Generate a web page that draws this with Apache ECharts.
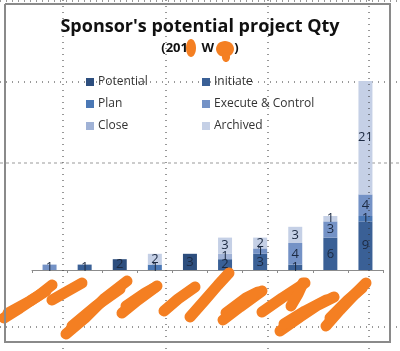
<!DOCTYPE html>
<html>
<head>
<meta charset="utf-8">
<script src="https://cdn.jsdelivr.net/npm/echarts@6/dist/echarts.min.js"></script>
<style>
  html, body { margin: 0; padding: 0; background: #fff; }
  #chart { width: 400px; height: 351px; }
</style>
</head>
<body>
<div id="chart"></div>
<script>
// categories are hidden under the orange scribbles in the picture
const categories = ["S1", "S2", "S3", "S4", "S5", "S6", "S7", "S8", "S9", "S10"];
const potential = [0, 0, 2, 0, 3, 0, 0, 0, 0, 0];
const initiate = [0, 1, 0, 0, 0, 2, 3, 1, 6, 9];
const plan = [0, 0, 0, 1, 0, 0, 0, 0, 0, 1];
const executeControl = [1, 0, 0, 0, 0, 0, 1, 4, 3, 4];
const close = [0, 0, 0, 0, 0, 1, 0, 0, 0, 0];
const archived = [0, 0, 0, 2, 0, 3, 2, 3, 1, 21];

const seriesNames = ["Potential", "Initiate", "Plan", "Execute & Control", "Close", "Archived"];
const seriesData = [potential, initiate, plan, executeControl, close, archived];
const colors = ["#2d4e7e", "#3a6096", "#4b78b5", "#7492c6", "#a0b2d6", "#c5d0e6"];

// orange marker strokes over the axis labels and subtitle
const scribbles = [
  [[4, 318], [20, 308], [38, 296], [52, 285]],
  [[8, 313], [30, 301], [46, 291]],
  [[52, 300], [66, 292], [82, 283]],
  [[66, 334], [85, 318], [105, 298], [127, 281]],
  [[72, 326], [96, 306], [120, 289]],
  [[122, 313], [138, 300], [157, 286]],
  [[126, 306], [145, 293], [154, 288]],
  [[164, 311], [178, 299], [195, 287]],
  [[190, 317], [205, 300], [218, 285], [229, 273]],
  [[223, 320], [240, 307], [262, 291]],
  [[226, 313], [246, 298], [258, 292]],
  [[262, 312], [282, 298], [305, 283]],
  [[291, 306], [298, 294], [303, 283]],
  [[280, 331], [300, 317], [318, 305], [334, 297]],
  [[284, 324], [305, 311], [326, 300]],
  [[326, 326], [340, 310], [355, 294], [366, 283]],
  [[330, 318], [348, 300], [362, 288]]
];

const chart = echarts.init(document.getElementById("chart"));

const dotted = { stroke: "#333", lineWidth: 1, lineDash: [1, 5] };
const graphics = [
  // chart area border
  {
    type: "polyline",
    shape: { points: [[5, 4], [390, 4], [390, 342], [5, 342], [5, 4]] },
    style: { stroke: "#8a8a8a", lineWidth: 2, fill: "none" },
    z: 250
  },
  // page grid lines from the spreadsheet
  { type: "line", shape: { x1: 0, y1: 163, x2: 400, y2: 163 }, style: { stroke: "#9a9a9a", lineWidth: 1, lineDash: [3, 3] }, z: 1 },
  { type: "line", shape: { x1: 0, y1: 82, x2: 400, y2: 82 }, style: dotted, z: 1 },
  { type: "line", shape: { x1: 0, y1: 327, x2: 400, y2: 327 }, style: dotted, z: 1 },
  { type: "line", shape: { x1: 0, y1: 1, x2: 400, y2: 1 }, style: dotted, z: 1 }
];
[63, 166, 268, 369].forEach((x) => {
  graphics.push({ type: "line", shape: { x1: x, y1: 0, x2: x, y2: 351 }, style: dotted, z: 100 });
});
scribbles.forEach((pts) => {
  graphics.push({ type: "polyline", shape: { points: pts }, style: { stroke: "#f47f22", lineWidth: 11, lineCap: "round", lineJoin: "round", fill: "none" }, z: 200 });
});
// blobs over the subtitle
graphics.push({ type: "ellipse", shape: { cx: 191, cy: 48, rx: 5, ry: 9 }, style: { fill: "#f47f22" }, z: 200 });
graphics.push({ type: "ellipse", shape: { cx: 225, cy: 49, rx: 9, ry: 8 }, style: { fill: "#f47f22" }, z: 200 });
graphics.push({ type: "ellipse", shape: { cx: 226, cy: 57, rx: 4, ry: 5 }, style: { fill: "#f47f22" }, z: 200 });

chart.setOption({
  animation: false,
  color: colors,
  title: {
    text: "Sponsor's potential project Qty",
    subtext: "(201    W      )",
    left: "center",
    top: 13,
    itemGap: 6,
    textStyle: { fontFamily: "Open Sans", fontWeight: "bold", fontSize: 18, color: "#111" },
    subtextStyle: { fontFamily: "Open Sans", fontWeight: "bold", fontSize: 13, color: "#111" }
  },
  legend: [
    {
      data: ["Potential", "Plan", "Close"],
      orient: "vertical",
      left: 81,
      top: 71,
      itemGap: 10,
      itemWidth: 8,
      itemHeight: 8,
      icon: "rect",
      textStyle: { fontFamily: "Open Sans", fontSize: 12, color: "#333", padding: [0, 0, 0, -1] }
    },
    {
      data: ["Initiate", "Execute & Control", "Archived"],
      orient: "vertical",
      left: 197,
      top: 71,
      itemGap: 10,
      itemWidth: 8,
      itemHeight: 8,
      icon: "rect",
      textStyle: { fontFamily: "Open Sans", fontSize: 12, color: "#333", padding: [0, 0, 0, -1] }
    }
  ],
  grid: { left: 32, right: 17, top: 81, bottom: 81, containLabel: false },
  xAxis: {
    type: "category",
    data: categories,
    axisLine: { lineStyle: { color: "#8c8c8c" } },
    axisTick: { show: true, length: 3, lineStyle: { color: "#8c8c8c" } },
    axisLabel: { show: false }
  },
  yAxis: {
    type: "value",
    min: 0,
    max: 35,
    show: false,
    splitLine: { show: false }
  },
  graphic: graphics,
  series: seriesNames.map((name, i) => ({
    name,
    type: "bar",
    stack: "total",
    barWidth: 14,
    data: seriesData[i],
    label: {
      show: true,
      position: "inside",
      fontFamily: "Open Sans",
      fontSize: 13,
      color: "#1c2a42",
      formatter: (p) => (p.value ? p.value : "")
    }
  }))
});
</script>
</body>
</html>
